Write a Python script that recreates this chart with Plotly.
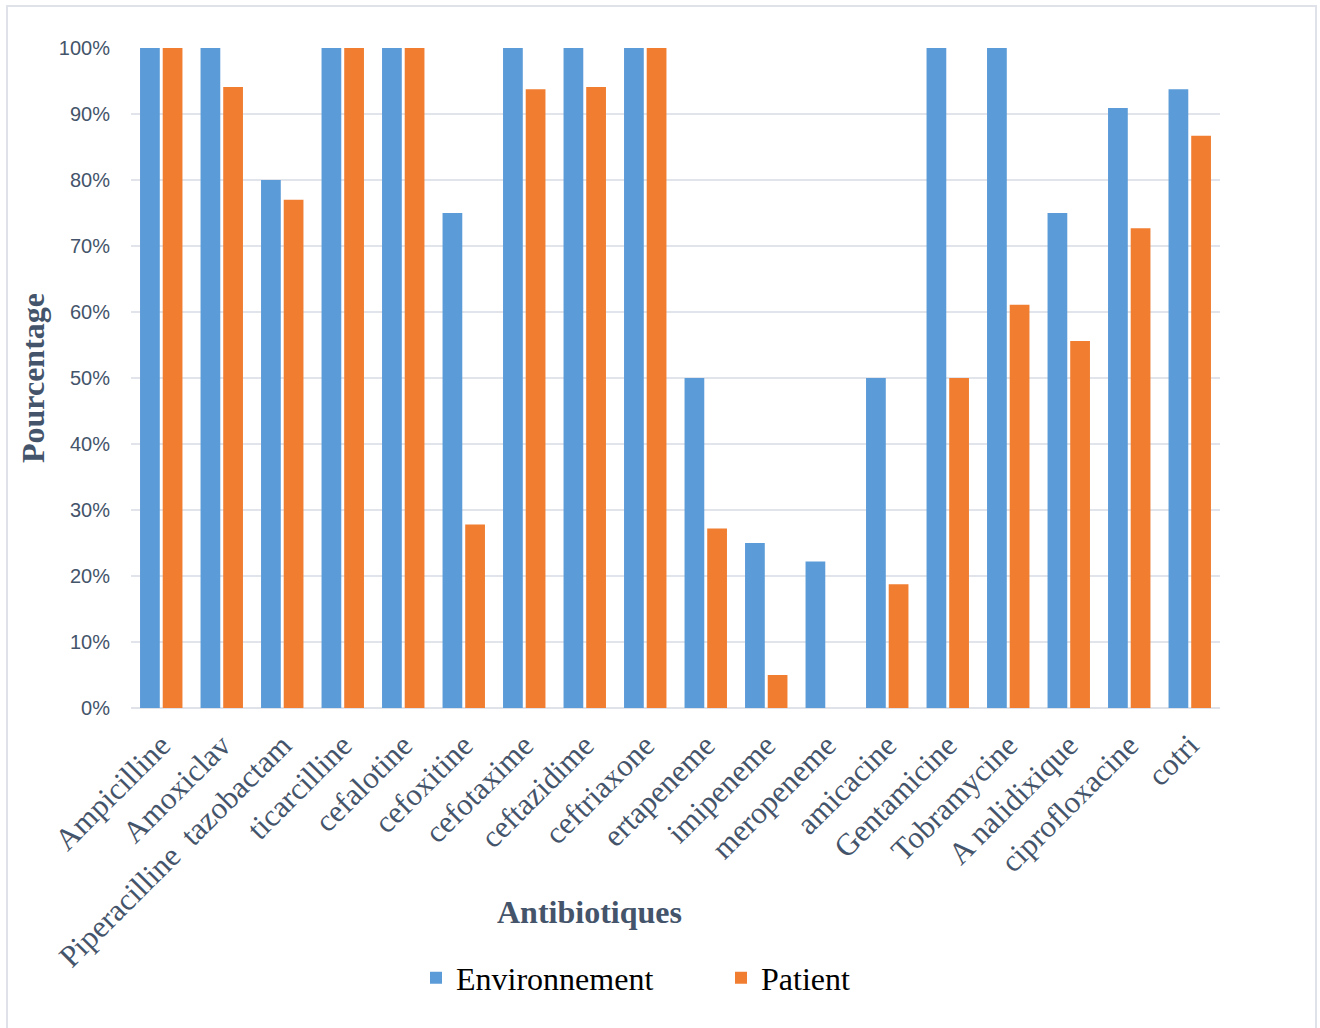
import plotly.graph_objects as go

# Antibiotics tested and resistance rates (%)
antibiotiques = [
    "Ampicilline", "Amoxiclav", "Piperacilline  tazobactam", "ticarcilline",
    "cefalotine", "cefoxitine", "cefotaxime", "ceftazidime", "ceftriaxone",
    "ertapeneme", "imipeneme", "meropeneme", "amicacine", "Gentamicine",
    "Tobramycine", "A nalidixique", "ciprofloxacine", "cotri",
]
environnement = [100, 100, 80, 100, 100, 75, 100, 100, 100,
                 50, 25, 22.2, 50, 100, 100, 75, 90.9, 93.75]
patient = [100, 94.1, 77, 100, 100, 27.8, 93.75, 94.1, 100,
           27.2, 5, 0, 18.75, 50, 61.1, 55.6, 72.7, 86.7]

y_ticks = [0, 10, 20, 30, 40, 50, 60, 70, 80, 90, 100]
y_tick_labels = [f"{v}%" for v in y_ticks]

TEXT = "#44546a"
SERIF = "Liberation Serif, Times New Roman, serif"
SANS = "Liberation Sans, Arial, sans-serif"

fig = go.Figure()
fig.add_trace(go.Bar(x=antibiotiques, y=environnement, name="Environnement",
                     marker=dict(color="#5b9bd8", line=dict(width=0))))
fig.add_trace(go.Bar(x=antibiotiques, y=patient, name="Patient",
                     marker=dict(color="#f07d30", line=dict(width=0))))

L, R, T, B = 131, 100, 48, 320
W, H = 1320, 1028
pw, ph = W - L - R, H - T - B

def px_x(x):
    return (x - L) / pw

def px_y(y):
    return (H - B - y) / ph

fig.update_layout(
    width=W, height=H,
    margin=dict(l=L, r=R, t=T, b=B),
    paper_bgcolor="white", plot_bgcolor="white",
    barmode="group", bargap=0.25, bargroupgap=0.13,
    showlegend=True,
    legend=dict(orientation="h", x=px_x(416), y=px_y(978), xanchor="left", yanchor="middle",
                font=dict(family=SERIF, size=32, color="black"),
                entrywidth=260, entrywidthmode="pixels", itemwidth=30),
    xaxis=dict(tickangle=-45, tickfont=dict(family=SERIF, size=31, color=TEXT),
               showgrid=False, showline=False, ticks="", ticklen=0,
               ticklabelstandoff=12),
    yaxis=dict(range=[0, 100], tickvals=y_ticks, ticktext=y_tick_labels,
               tickfont=dict(family=SANS, size=20, color=TEXT),
               showgrid=True, gridcolor="#e1e5eb", gridwidth=2,
               zeroline=True, zerolinecolor="#dfe3e9", zerolinewidth=2,
               showline=False, ticks="", ticklabelstandoff=20),
    annotations=[
        dict(text="<b>Antibiotiques</b>", xref="paper", yref="paper",
             x=px_x(589), y=px_y(912), xanchor="center", yanchor="middle",
             showarrow=False, font=dict(family=SERIF, size=32, color=TEXT)),
        dict(text="<b>Pourcentage</b>", xref="paper", yref="paper",
             x=px_x(33), y=px_y(378), xanchor="center", yanchor="middle",
             showarrow=False, textangle=-90,
             font=dict(family=SERIF, size=32, color=TEXT)),
    ],
    shapes=[
        dict(type="rect", xref="paper", yref="paper",
             x0=px_x(7), x1=px_x(1316), y0=px_y(1040), y1=px_y(6),
             line=dict(color="#dfe3e9", width=2), fillcolor="rgba(0,0,0,0)", layer="below"),
    ],
)

fig.write_html("out.html")
